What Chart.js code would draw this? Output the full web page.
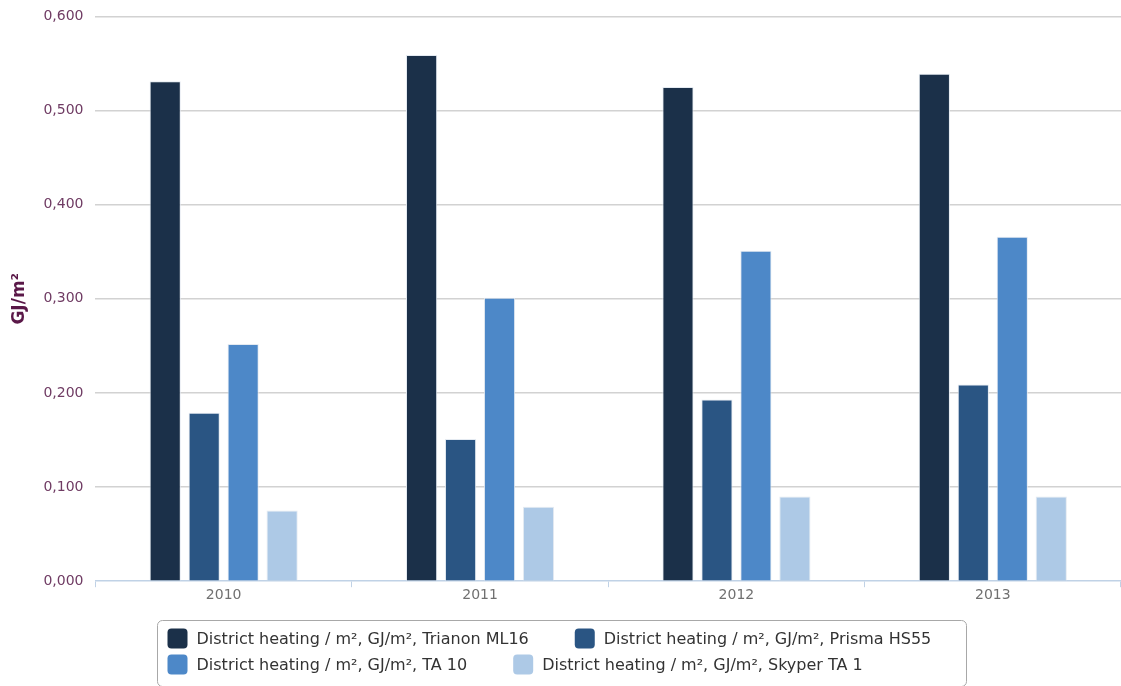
<!DOCTYPE html>
<html>
<head>
<meta charset="utf-8">
<title>District heating</title>
<script src="https://cdn.jsdelivr.net/npm/chart.js@4/dist/chart.umd.min.js"></script>
<style>
  html, body { margin: 0; padding: 0; background: #fff; }
  #wrap { width: 1121px; height: 686px; position: relative; }
</style>
</head>
<body>
<div id="wrap"><canvas id="graphCanvas"></canvas></div>
<script>
// years on the x axis
var years = ['2010', '2011', '2012', '2013'];

// GJ/m² per building
var trianon = [0.531, 0.559, 0.525, 0.539];
var prisma  = [0.179, 0.151, 0.193, 0.209];
var ta10    = [0.252, 0.301, 0.351, 0.366];
var skyper  = [0.075, 0.079, 0.090, 0.090];

var seriesNames = [
    'District heating / m², GJ/m², Trianon ML16',
    'District heating / m², GJ/m², Prisma HS55',
    'District heating / m², GJ/m², TA 10',
    'District heating / m², GJ/m², Skyper TA 1'
];
var seriesColors = ['#1b3049', '#2a5583', '#4d88c8', '#adc9e6'];

var yMin = 0;
var yMax = 0.6;
var yStep = 0.1;
var yTitle = 'GJ/m²';

// legend drawn by hand: a rounded box, items flowing left to right
var boxLegend = {
    id: 'boxLegend',
    afterDraw: function(chart) {
        var ctx = chart.ctx;
        var left = 157.5, top = 620.5, width = 809, height = 66;
        ctx.save();
        ctx.strokeStyle = '#a8a8a8';
        ctx.lineWidth = 1;
        ctx.beginPath();
        ctx.roundRect(left, top, width, height, 5);
        ctx.stroke();

        ctx.font = '16px "DejaVu Sans", sans-serif';
        ctx.textBaseline = 'middle';
        var x = left + 10, y = top + 18;
        var rowH = 26, gap = 46, sw = 20;
        chart.data.datasets.forEach(function(ds) {
            var w = sw + 9 + ctx.measureText(ds.label).width;
            if (x + w > left + width - 10) {
                x = left + 10;
                y += rowH;
            }
            ctx.fillStyle = ds.backgroundColor;
            ctx.beginPath();
            ctx.roundRect(x, y - sw / 2, sw, sw, 4);
            ctx.fill();
            ctx.fillStyle = '#333';
            ctx.fillText(ds.label, x + sw + 9, y + 1);
            x += w + gap;
        });
        ctx.restore();
    }
};

var allValues = [trianon, prisma, ta10, skyper];
var chartdata = {
    labels: years,
    datasets: allValues.map(function(vals, i) {
        return {
            label: seriesNames[i],
            data: vals,
            backgroundColor: seriesColors[i],
            borderColor: 'rgba(225,232,240,0.9)',
            borderWidth: 1,
            categoryPercentage: 0.608,
            barPercentage: 0.8
        };
    })
};

var graphTarget = document.getElementById('graphCanvas');

new Chart(graphTarget, {
    type: 'bar',
    data: chartdata,
    plugins: [boxLegend],
    options: {
        responsive: true,
        maintainAspectRatio: false,
        animation: false,
        layout: {
            padding: { left: 9, right: 0, top: 4, bottom: 82 }
        },
        plugins: {
            legend: { display: false },
            tooltip: { enabled: false }
        },
        scales: {
            x: {
                grid: {
                    display: true,
                    drawOnChartArea: false,
                    color: '#c0d2e6',
                    tickLength: 6
                },
                border: { color: '#c0d2e6', width: 1.5 },
                ticks: {
                    color: '#707070',
                    padding: 0,
                    font: { family: 'DejaVu Sans', size: 14 }
                }
            },
            y: {
                min: yMin,
                max: yMax,
                ticks: {
                    stepSize: yStep,
                    color: '#6f3b63',
                    padding: 12,
                    font: { family: 'DejaVu Sans', size: 14, lineHeight: 0.62 },
                    callback: function(v) {
                        return v.toFixed(3).replace('.', ',');
                    }
                },
                grid: {
                    color: function(c) {
                        return c.tick.value === 0 ? 'rgba(0,0,0,0)' : '#d2d2d2';
                    },
                    lineWidth: 1.5,
                    drawTicks: false
                },
                border: { display: false },
                title: {
                    display: true,
                    text: yTitle,
                    color: '#5a1848',
                    font: { family: 'DejaVu Sans', size: 17, weight: 'bold' },
                    padding: { top: 0, bottom: 2 }
                }
            }
        }
    }
});
</script>
</body>
</html>
